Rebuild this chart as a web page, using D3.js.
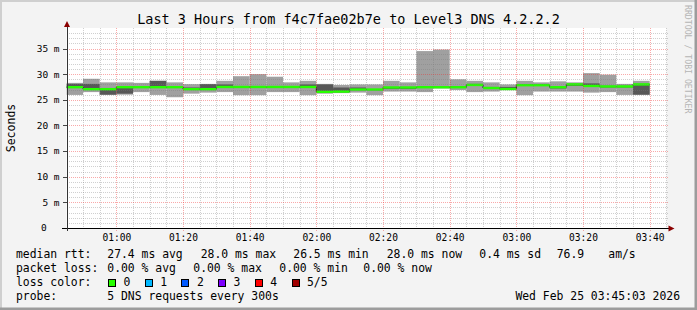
<!DOCTYPE html>
<html>
<head>
<meta charset="utf-8">
<script src="https://cdn.jsdelivr.net/npm/d3@7"></script>
<style>
  body { margin: 0; background: #f3f3f3; }
  svg { display: block; }
  text { font-family: 'DejaVu Sans Mono', monospace; fill: #000; white-space: pre; }
</style>
</head>
<body>
<svg id="chart" width="697" height="310"></svg>
<script>
// 5-minute steps from 00:45 to 03:40 (ms)
var pingMin = [25.95, 26.5, 25.95, 26.0, 26.5, 25.95, 25.5, 26.2, 26.4, 26.5, 25.9, 25.9,
               26.5, 26.5, 25.9, 26.2, 26.3, 26.4, 25.9, 26.6, 26.6, 26.5, 27.2, 26.9,
               26.5, 26.6, 26.9, 25.9, 26.6, 26.6, 26.6, 26.4, 26.5, 25.95, 25.95];
var ping2   = [27.3, 27.0, 26.0, 26.2, 27.3, 27.3, 27.3, 27.0, 27.0, 27.3, 27.3, 27.3,
               27.3, 27.3, 27.3, 26.5, 26.5, 26.9, 26.9, 27.1, 27.1, 27.3, 27.3, 27.3,
               27.8, 27.1, 27.0, 27.7, 27.7, 27.2, 27.7, 27.6, 27.4, 27.4, 26.0];
var pingMed = [27.46, 27.07, 27.07, 27.46, 27.46, 27.46, 27.46, 27.07, 27.07, 27.5, 27.5, 27.5,
               27.5, 27.5, 27.5, 26.55, 26.6, 27.0, 27.0, 27.4, 27.4, 27.45, 27.45, 27.45,
               27.9, 27.3, 27.1, 27.85, 27.85, 27.45, 28.0, 27.7, 27.6, 27.6, 28.0];
var ping4   = [28.1, 28.1, 27.2, 27.6, 27.6, 28.7, 27.6, 27.4, 28.05, 28.0, 27.6, 27.6,
               27.6, 27.6, 28.0, 28.0, 27.4, 27.4, 27.1, 27.5, 27.5, 27.6, 27.5, 27.6,
               28.1, 27.5, 27.5, 28.0, 27.9, 27.5, 28.1, 28.2, 27.7, 27.7, 28.1];
var pingMax = [28.3, 29.1, 28.4, 28.4, 28.3, 28.7, 28.4, 28.05, 28.1, 28.7, 29.6, 30.0,
               29.5, 28.4, 28.7, 28.1, 27.9, 28.0, 28.0, 28.7, 28.4, 34.5, 34.8, 29.0,
               28.7, 28.4, 28.0, 28.7, 28.4, 28.6, 28.4, 30.2, 29.9, 28.1, 28.7];

var yTicks = [0, 5, 10, 15, 20, 25, 30, 35];
var lossLabels = ['0', '1', '2', '3', '4', '5/5'];
var lossColors = ['#26ff00', '#00b8ff', '#0059ff', '#7e00ff', '#ff0000', '#a10000'];
var rttLegend = ['median rtt:', '27.4 ms avg', '28.0 ms max', '26.5 ms min', '28.0 ms now', '0.4 ms sd', '76.9', 'am/s'];
var lossLegend = ['packet loss:', '0.00 % avg', '0.00 % max', '0.00 % min', '0.00 % now'];
var probeLegend = ['probe:', '5 DNS requests every 300s'];
var title = 'Last 3 Hours from f4c7fae02b7e to Level3 DNS 4.2.2.2';
var stamp = 'Wed Feb 25 03:45:03 2026';

var W = 697, H = 310,
    pLeft = 66.5, pRight = 666.5, pTop = 28, pBottom = 228;

var start = new Date(Date.UTC(2026, 1, 25, 0, 45, 3)),
    end = new Date(Date.UTC(2026, 1, 25, 3, 45, 3)),
    firstStep = new Date(Date.UTC(2026, 1, 25, 0, 45, 0));

var x = d3.scaleUtc().domain([start, end]).range([pLeft, pRight]);
var y = d3.scaleLinear().domain([0, 39]).range([pBottom, pTop]);

var stepTimes = pingMed.map(function(d, i) { return d3.utcMinute.offset(firstStep, 5 * i); });
var steps = pingMed.map(function(d, i) {
  return { t0: stepTimes[i], t1: d3.utcMinute.offset(stepTimes[i], 5),
           min: pingMin[i], p2: ping2[i], med: d, p4: ping4[i], max: pingMax[i] };
});

var svg = d3.select('#chart');

// frame
svg.append('rect').attr('width', W).attr('height', H).attr('fill', '#f3f3f3');
svg.append('path').attr('d', 'M1,' + H + 'V1H' + W).attr('fill', 'none')
  .attr('stroke', '#cfcfcf').attr('stroke-width', 2);
svg.append('path').attr('d', 'M' + (W - 1) + ',0V' + (H - 1) + 'H0').attr('fill', 'none')
  .attr('stroke', '#9c9c9c').attr('stroke-width', 3);

svg.append('defs').append('clipPath').attr('id', 'plotclip')
  .append('rect').attr('x', pLeft).attr('y', pTop).attr('width', pRight - pLeft).attr('height', pBottom - pTop);

svg.append('rect').attr('x', pLeft).attr('y', pTop)
  .attr('width', pRight - pLeft).attr('height', pBottom - pTop).attr('fill', '#fff');

var plot = svg.append('g').attr('clip-path', 'url(#plotclip)');

// smoke
plot.selectAll('.smoke-outer').data(steps).enter().append('rect')
  .attr('x', function(d) { return x(d.t0); })
  .attr('width', function(d) { return x(d.t1) - x(d.t0); })
  .attr('y', function(d) { return y(d.max); })
  .attr('height', function(d) { return y(d.min) - y(d.max); })
  .attr('fill', '#a0a0a0');

plot.selectAll('.smoke-inner').data(steps).enter().append('rect')
  .attr('x', function(d) { return x(d.t0); })
  .attr('width', function(d) { return x(d.t1) - x(d.t0); })
  .attr('y', function(d) { return y(d.p4); })
  .attr('height', function(d) { return y(d.p2) - y(d.p4); })
  .attr('fill', '#585858');

// median
var medLine = d3.line().curve(d3.curveStepAfter)
  .x(function(d) { return x(d[0]); })
  .y(function(d) { return y(d[1]); });
var medPts = steps.map(function(d) { return [d.t0, d.med]; });
medPts.push([steps[steps.length - 1].t1, steps[steps.length - 1].med]);
plot.append('path').attr('d', medLine(medPts))
  .attr('fill', 'none').attr('stroke', '#202020').attr('stroke-width', 1);

plot.selectAll('.median').data(steps).enter().append('rect')
  .attr('x', function(d) { return x(d.t0); })
  .attr('width', function(d) { return x(d.t1) - x(d.t0); })
  .attr('y', function(d) { return y(d.med) - 1.2; })
  .attr('height', 2.4)
  .attr('fill', lossColors[0]);

// grid, drawn over the graph like rrdtool
var grid = svg.append('g').attr('shape-rendering', 'crispEdges').attr('stroke-dasharray', '1,1');

var minorY = d3.range(1, 39).filter(function(v) { return v % 5 != 0; });
grid.selectAll('.hmin').data(minorY).enter().append('line')
  .attr('x1', pLeft).attr('x2', pRight + 1.5)
  .attr('y1', function(d) { return Math.round(y(d)) + 0.5; })
  .attr('y2', function(d) { return Math.round(y(d)) + 0.5; })
  .attr('stroke', 'rgba(120,120,120,0.35)');

var minorX = d3.utcMinute.every(5).range(start, end).filter(function(t) { return t.getUTCMinutes() % 20 != 0; });
grid.selectAll('.vmin').data(minorX).enter().append('line')
  .attr('x1', function(d) { return Math.round(x(d)) + 0.5; })
  .attr('x2', function(d) { return Math.round(x(d)) + 0.5; })
  .attr('y1', pTop).attr('y2', pBottom + 2)
  .attr('stroke', 'rgba(120,120,120,0.35)');

grid.selectAll('.hmaj').data(yTicks.slice(1)).enter().append('line')
  .attr('x1', pLeft - 4).attr('x2', pRight + 1.5)
  .attr('y1', function(d) { return Math.round(y(d)) + 0.5; })
  .attr('y2', function(d) { return Math.round(y(d)) + 0.5; })
  .attr('stroke', 'rgba(240,40,40,0.4)');

var majorX = d3.utcMinute.every(20).range(start, end);
grid.selectAll('.vmaj').data(majorX).enter().append('line')
  .attr('x1', function(d) { return Math.round(x(d)) + 0.5; })
  .attr('x2', function(d) { return Math.round(x(d)) + 0.5; })
  .attr('y1', pTop).attr('y2', pBottom + 3)
  .attr('stroke', 'rgba(240,40,40,0.4)');

// axes
var axes = svg.append('g').attr('shape-rendering', 'crispEdges');
axes.append('line').attr('x1', pLeft - 5).attr('x2', pRight + 3)
  .attr('y1', pBottom + 0.5).attr('y2', pBottom + 0.5).attr('stroke', '#000');
axes.append('line').attr('x1', pLeft + 0.5).attr('x2', pLeft + 0.5)
  .attr('y1', pBottom + 3).attr('y2', pTop - 3).attr('stroke', '#333');
axes.selectAll('.ytick').data(yTicks.slice(1)).enter().append('line')
  .attr('x1', pLeft - 4).attr('x2', pLeft)
  .attr('y1', function(d) { return Math.round(y(d)) + 0.5; })
  .attr('y2', function(d) { return Math.round(y(d)) + 0.5; })
  .attr('stroke', '#444');

svg.append('path').attr('d', 'M' + (pLeft - 2.5) + ',' + (pTop - 1) + 'L' + (pLeft + 0.5) + ',' + (pTop - 7) + 'L' + (pLeft + 3.5) + ',' + (pTop - 1) + 'Z')
  .attr('fill', '#8b0000');
svg.append('path').attr('d', 'M' + (pRight + 2) + ',' + (pBottom - 2.5) + 'L' + (pRight + 8) + ',' + (pBottom + 0.5) + 'L' + (pRight + 2) + ',' + (pBottom + 3.5) + 'Z')
  .attr('fill', '#8b0000');

// tick labels
svg.selectAll('.ylab').data(yTicks).enter().append('text')
  .attr('x', function(d) { return d == 0 ? 46.8 : 59.6; })
  .attr('y', function(d) { return y(d) + 3.4; })
  .attr('text-anchor', 'end')
  .style('font-size', '9.5px')
  .text(function(d) { return d == 0 ? '0' : d + ' m'; });

svg.selectAll('.xlab').data(majorX).enter().append('text')
  .attr('x', function(d) { return x(d) + 0.5; })
  .attr('y', 240.8)
  .attr('text-anchor', 'middle')
  .style('font-size', '9.6px')
  .text(d3.utcFormat('%H:%M'));

// titles
svg.append('text').attr('x', 348.5).attr('y', 24).attr('text-anchor', 'middle')
  .style('font-size', '13.5px').text(title);

svg.append('text').attr('transform', 'translate(15,' + ((pTop + pBottom) / 2) + ') rotate(-90)')
  .attr('text-anchor', 'middle').style('font-size', '11.5px').text('Seconds');

svg.append('text').attr('transform', 'translate(685,5) rotate(90)')
  .style('font-size', '8.2px').style('fill', '#b5b5b5').text('RRDTOOL / TOBI OETIKER');

// legend
var legendFont = '11.4px';
function legendRow(items, xs, yy) {
  svg.selectAll(null).data(items).enter().append('text')
    .attr('x', function(d, i) { return xs[i]; })
    .attr('y', yy)
    .style('font-size', legendFont)
    .text(function(d) { return d; });
}
legendRow(rttLegend, [16, 107.3, 200.7, 293.3, 386.7, 479.3, 556.7, 608.3], 258);
legendRow(lossLegend, [16, 107.3, 193.3, 279.3, 363.3], 272);
legendRow(['loss color:'], [16], 286.3);
legendRow(probeLegend, [16, 107.3], 300.3);

svg.append('text').attr('x', 680).attr('y', 300.3).attr('text-anchor', 'end')
  .style('font-size', legendFont).text(stamp);

var lossG = svg.selectAll('.loss').data(lossLabels).enter().append('g')
  .attr('transform', function(d, i) { return 'translate(' + (108.5 + i * 36.7) + ',279.5)'; });
lossG.append('rect').attr('width', 7).attr('height', 7)
  .attr('fill', function(d, i) { return lossColors[i]; })
  .attr('stroke', '#000').attr('stroke-width', 1)
  .attr('shape-rendering', 'crispEdges');
lossG.append('text').attr('x', 15).attr('y', 6.8)
  .style('font-size', legendFont).text(function(d) { return d; });
</script>
</body>
</html>
